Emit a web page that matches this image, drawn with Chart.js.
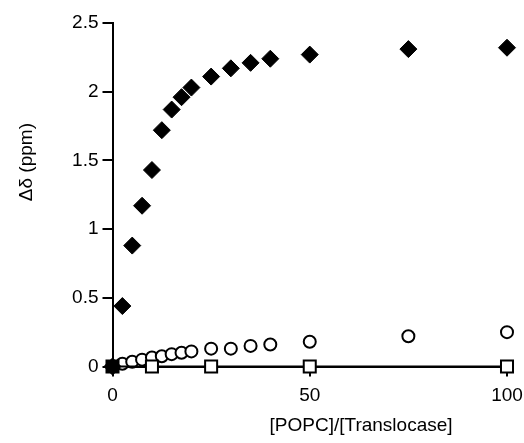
<!DOCTYPE html>
<html>
<head>
<meta charset="utf-8">
<script src="https://cdn.jsdelivr.net/npm/chart.js@4.4.0/dist/chart.umd.min.js"></script>
<style>
html, body { margin: 0; padding: 0; background: #fff; }
canvas { display: block; }
</style>
</head>
<body>
<canvas id="chart" width="524" height="443"></canvas>
<script>
// [POPC]/[Translocase] ratios and chemical shift changes (ppm)
var ratios = [0, 2.5, 5, 7.5, 10, 12.5, 15, 17.5, 20, 25, 30, 35, 40, 50, 75, 100];
var diamondShift = [0, 0.44, 0.88, 1.17, 1.43, 1.72, 1.87, 1.96, 2.03, 2.11, 2.17, 2.21, 2.24, 2.27, 2.31, 2.32];
var circleShift = [0, 0.02, 0.035, 0.05, 0.065, 0.075, 0.09, 0.1, 0.11, 0.13, 0.13, 0.15, 0.16, 0.18, 0.22, 0.25];
var squareRatios = [0, 10, 25, 50, 100];
var squareShift = [0, 0, 0, 0, 0];
var xTicks = [0, 50, 100];
var yTicks = [0, 0.5, 1, 1.5, 2, 2.5];

var font = '"Liberation Sans", Arial, Helvetica, sans-serif';

function pairs(xs, ys) {
    return xs.map(function (x, i) {
        return { x: x, y: ys[i] };
    });
}

var axisTitles = {
    id: 'axisTitles',
    afterDraw: function (chart) {
        var ctx = chart.ctx;
        var area = chart.chartArea;
        ctx.save();
        ctx.fillStyle = '#000';
        ctx.font = '19px ' + font;
        ctx.textAlign = 'center';
        ctx.textBaseline = 'middle';
        ctx.fillText('[POPC]/[Translocase]', area.left + (area.right - area.left) * 0.63, 426);
        ctx.translate(27, area.top + (area.bottom - area.top) * 0.405);
        ctx.rotate(-Math.PI / 2);
        ctx.fillText('Δδ (ppm)', 0, 0);
        ctx.restore();
    }
};

var ctx = document.getElementById('chart').getContext('2d');
var chart = new Chart(ctx, {
    type: 'scatter',
    data: {
        datasets: [{
            label: 'squares',
            data: pairs(squareRatios, squareShift),
            showLine: true,
            borderColor: '#000',
            borderWidth: 2,
            pointStyle: 'rect',
            pointRadius: 8.5,
            pointBorderWidth: 2,
            pointBorderColor: '#000',
            pointBackgroundColor: ['#000', '#fff', '#fff', '#fff', '#fff'],
            clip: false,
            order: 0
        }, {
            label: 'diamonds',
            data: pairs(ratios, diamondShift),
            showLine: false,
            pointStyle: 'rectRot',
            pointRadius: 8.5,
            pointBorderWidth: 1,
            pointBorderColor: '#000',
            pointBackgroundColor: '#000',
            clip: false,
            order: 1
        }, {
            label: 'circles',
            data: pairs(ratios, circleShift),
            showLine: false,
            pointStyle: 'circle',
            pointRadius: 6,
            pointBorderWidth: 2,
            pointBorderColor: '#000',
            pointBackgroundColor: '#fff',
            clip: false,
            order: 2
        }]
    },
    options: {
        responsive: false,
        animation: false,
        layout: {
            padding: { left: 0, top: 23, right: 17, bottom: 0 }
        },
        plugins: {
            legend: { display: false },
            tooltip: { enabled: false }
        },
        scales: {
            x: {
                type: 'linear',
                min: 0,
                max: 100,
                afterBuildTicks: function (scale) {
                    scale.ticks = xTicks.map(function (v) { return { value: v }; });
                },
                afterFit: function (scale) {
                    scale.height = 76.5;
                    scale.paddingLeft = 0;
                    scale.paddingRight = 0;
                },
                grid: { drawOnChartArea: false, tickLength: 10, color: '#000', lineWidth: 2 },
                border: { display: true, color: '#000', width: 2 },
                ticks: {
                    color: '#000', padding: 8, maxRotation: 0,
                    font: { family: font, size: 19 },
                    callback: function (v) { return String(v); }
                }
            },
            y: {
                type: 'linear',
                min: 0,
                max: 2.5,
                afterBuildTicks: function (scale) {
                    scale.ticks = yTicks.map(function (v) { return { value: v }; });
                },
                afterFit: function (scale) {
                    scale.width = 112.5;
                    scale.paddingTop = 0;
                    scale.paddingBottom = 0;
                },
                grid: { drawOnChartArea: false, tickLength: 10, color: '#000', lineWidth: 2 },
                border: { display: true, color: '#000', width: 2 },
                ticks: {
                    color: '#000', padding: 4,
                    font: { family: font, size: 19 },
                    callback: function (v) { return String(v); }
                }
            }
        }
    },
    plugins: [axisTitles]
});
</script>
</body>
</html>
